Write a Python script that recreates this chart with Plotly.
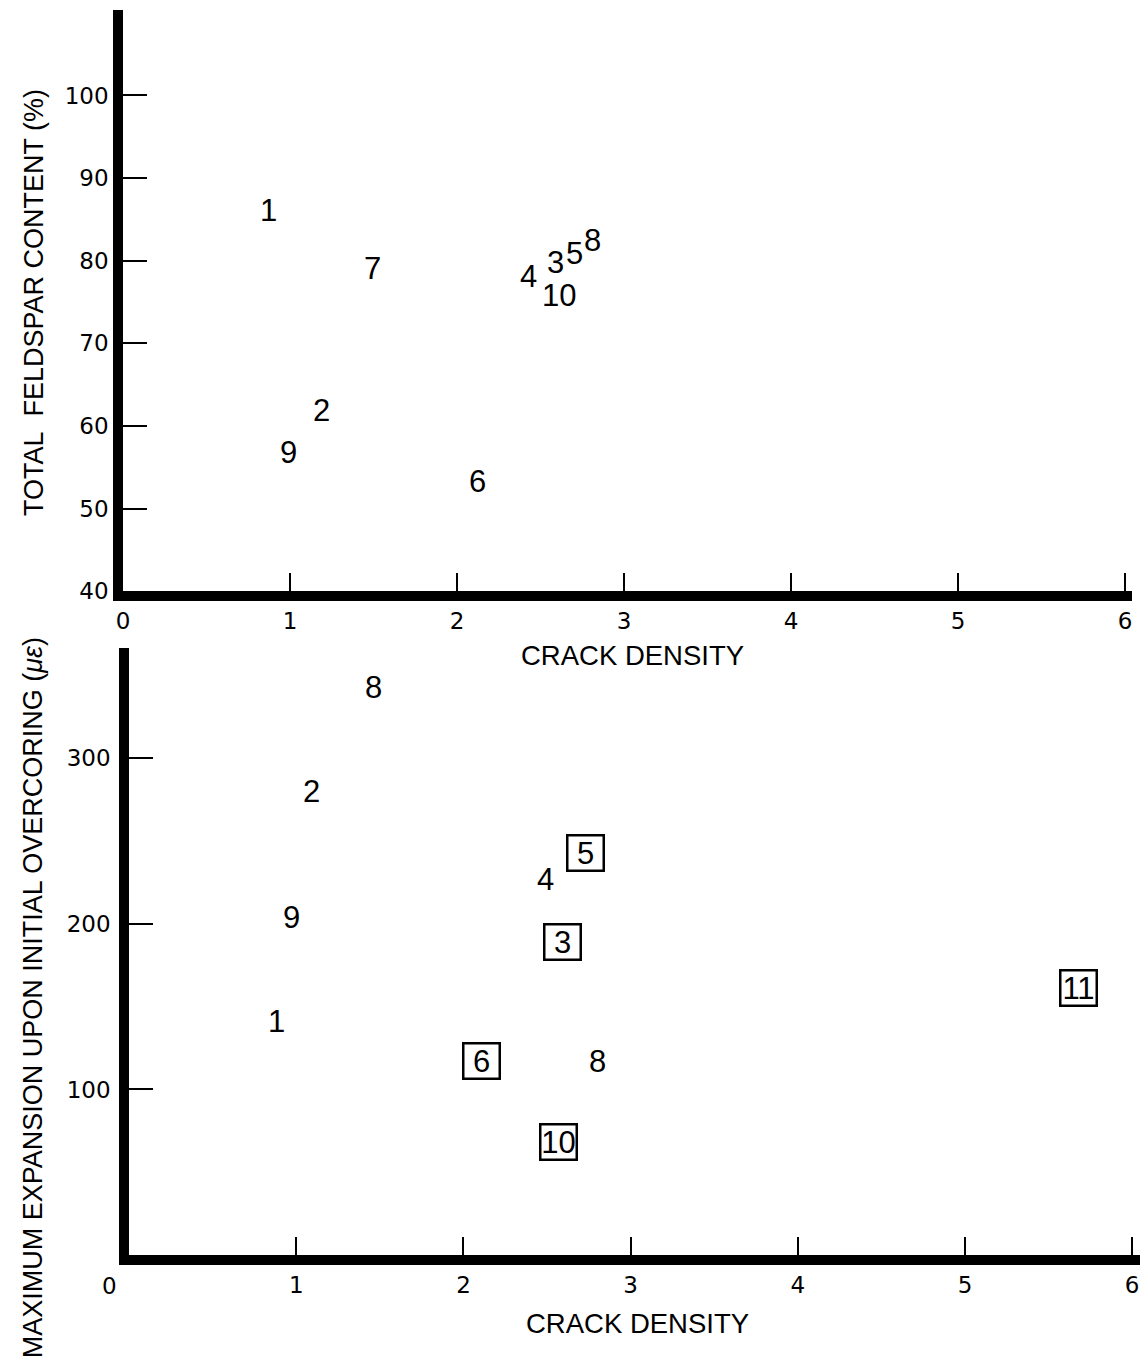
import plotly.graph_objects as go

W, H = 1147, 1359

# ---------------- data ----------------
# Top panel: total feldspar content (%) vs crack density
top_ids = ["1", "7", "2", "9", "6", "4", "3", "5", "8", "10"]
top_crack_density = [0.87, 1.49, 1.19, 0.99, 2.12, 2.43, 2.59, 2.70, 2.81, 2.61]
top_feldspar_pct = [86.1, 79.1, 61.9, 56.8, 53.4, 78.1, 79.8, 80.9, 82.5, 75.9]

# Bottom panel: maximum expansion upon initial overcoring (micro-strain) vs crack density
bot_ids = ["8", "2", "9", "1", "4", "5", "3", "6", "8", "10", "11"]
bot_crack_density = [1.46, 1.09, 0.97, 0.88, 2.49, 2.73, 2.59, 2.11, 2.80, 2.57, 5.68]
bot_expansion = [343, 280, 204, 141, 227, 243, 189, 117, 117, 68, 161]
bot_boxed = [False, False, False, False, False, True, True, True, False, True, True]

x_ticks = [0, 1, 2, 3, 4, 5, 6]
top_y_ticks = [40, 50, 60, 70, 80, 90, 100]
bot_y_ticks = [100, 200, 300]

x_title = "CRACK DENSITY"
top_y_title = "TOTAL\u00a0\u00a0FELDSPAR CONTENT (%)"
bot_y_title = "MAXIMUM EXPANSION UPON INITIAL OVERCORING (<i>\u03bc\u03b5</i>)"

# ---------------- layout geometry (pixels) ----------------
T_X0, T_X6 = 117, 1126
T_XMAX = 6.04
T_Y0, T_TOP, T_YMIN, T_YU = 591, 10, 40, 8.26
T_YMAX = T_YMIN + (T_Y0 - T_TOP) / T_YU

B_X0, B_X6 = 123, 1133
B_XMAX = 6.05
B_Y0, B_TOP, B_YU = 1254.5, 648, 1.655
B_YMAX = (B_Y0 - B_TOP) / B_YU

VSCALE = 0.99  # empirical compensation of vertical placement


def px_x(p):
    return p / W


def px_y(p):
    return 1 - p / (H * VSCALE)


def xdom(x0, x6, xmax):
    unit = (x6 - x0) / 6.0
    return [px_x(x0), px_x(x0 + xmax * unit)]


NUM_FONT = "DejaVu Sans, Liberation Sans, sans-serif"
LBL_FONT = "Liberation Sans, Arial, sans-serif"
LBL_SIZE = 31

fig = go.Figure()

# invisible point traces (carry the data / hover), labels drawn as annotations
fig.add_trace(go.Scatter(
    x=top_crack_density, y=top_feldspar_pct, text=top_ids,
    mode="markers", marker=dict(size=8, opacity=0),
    xaxis="x", yaxis="y", showlegend=False, hoverinfo="x+y+text"))
fig.add_trace(go.Scatter(
    x=bot_crack_density, y=bot_expansion, text=bot_ids,
    mode="markers", marker=dict(size=8, opacity=0),
    xaxis="x2", yaxis="y2", showlegend=False, hoverinfo="x+y+text"))

annotations = []
for x, y, t in zip(top_crack_density, top_feldspar_pct, top_ids):
    annotations.append(dict(
        x=x, y=y, xref="x", yref="y", text=t, showarrow=False,
        font=dict(family=LBL_FONT, size=LBL_SIZE, color="black"),
        borderpad=0, height=26, valign="middle",
        xanchor="center", yanchor="middle"))

for x, y, t, b in zip(bot_crack_density, bot_expansion, bot_ids, bot_boxed):
    a = dict(x=x, y=y, xref="x2", yref="y2", text=t, showarrow=False,
             font=dict(family=LBL_FONT, size=LBL_SIZE, color="black"),
             borderpad=0, xanchor="center", yanchor="middle")
    if b:
        a.update(bordercolor="black", borderwidth=2.5,
                 width=34, height=33, align="center", valign="middle",
                 bgcolor="white")
    annotations.append(a)

# axis titles
ytitle_font = dict(family=LBL_FONT, size=27, color="black")
xtitle_font = dict(family=LBL_FONT, size=27.5, color="black")
annotations += [
    dict(x=px_x(27), y=px_y(302), xref="paper", yref="paper", text=top_y_title,
         textangle=-90, showarrow=False, font=ytitle_font,
         xanchor="center", yanchor="middle"),
    dict(x=px_x(27), y=px_y(997), xref="paper", yref="paper", text=bot_y_title,
         textangle=-90, showarrow=False, font=ytitle_font,
         xanchor="center", yanchor="middle"),
    dict(x=px_x(630), y=px_y(655), xref="paper", yref="paper", text=x_title,
         showarrow=False, font=xtitle_font, xanchor="center", yanchor="middle"),
    dict(x=px_x(635), y=px_y(1323), xref="paper", yref="paper", text=x_title,
         showarrow=False, font=xtitle_font, xanchor="center", yanchor="middle"),
    # corner "0" of the lower panel
    dict(x=0, xref="x2", xshift=-20, y=px_y(1285), yref="paper", text="0",
         showarrow=False, font=dict(family=NUM_FONT, size=23, color="black"),
         xanchor="center", yanchor="middle"),
]

axis_common = dict(showgrid=False, zeroline=False, showline=True,
                   linecolor="black", linewidth=10, ticks="inside",
                   tickcolor="black", fixedrange=True,
                   tickfont=dict(family=NUM_FONT, size=23, color="black"))

fig.update_layout(
    width=W, height=H,
    margin=dict(l=0, r=0, t=0, b=0),
    paper_bgcolor="white", plot_bgcolor="white",
    showlegend=False,
    xaxis=dict(axis_common, domain=xdom(T_X0, T_X6, T_XMAX),
               range=[0, T_XMAX], anchor="y", tickvals=x_ticks,
               ticklen=18, tickwidth=1.5),
    yaxis=dict(axis_common, domain=[px_y(T_Y0), px_y(T_TOP)],
               range=[T_YMIN, T_YMAX], anchor="x", tickvals=top_y_ticks,
               ticklen=24, tickwidth=2),
    xaxis2=dict(axis_common, domain=xdom(B_X0, B_X6, B_XMAX),
                range=[0, B_XMAX], anchor="y2", tickvals=x_ticks[1:],
                ticklen=18, tickwidth=1.5),
    yaxis2=dict(axis_common, domain=[px_y(B_Y0), px_y(B_TOP)],
                range=[0, B_YMAX], anchor="x2", tickvals=bot_y_ticks,
                ticklen=24, tickwidth=2, ticklabelstandoff=4),
    annotations=annotations,
)

fig.write_html("out.html")
